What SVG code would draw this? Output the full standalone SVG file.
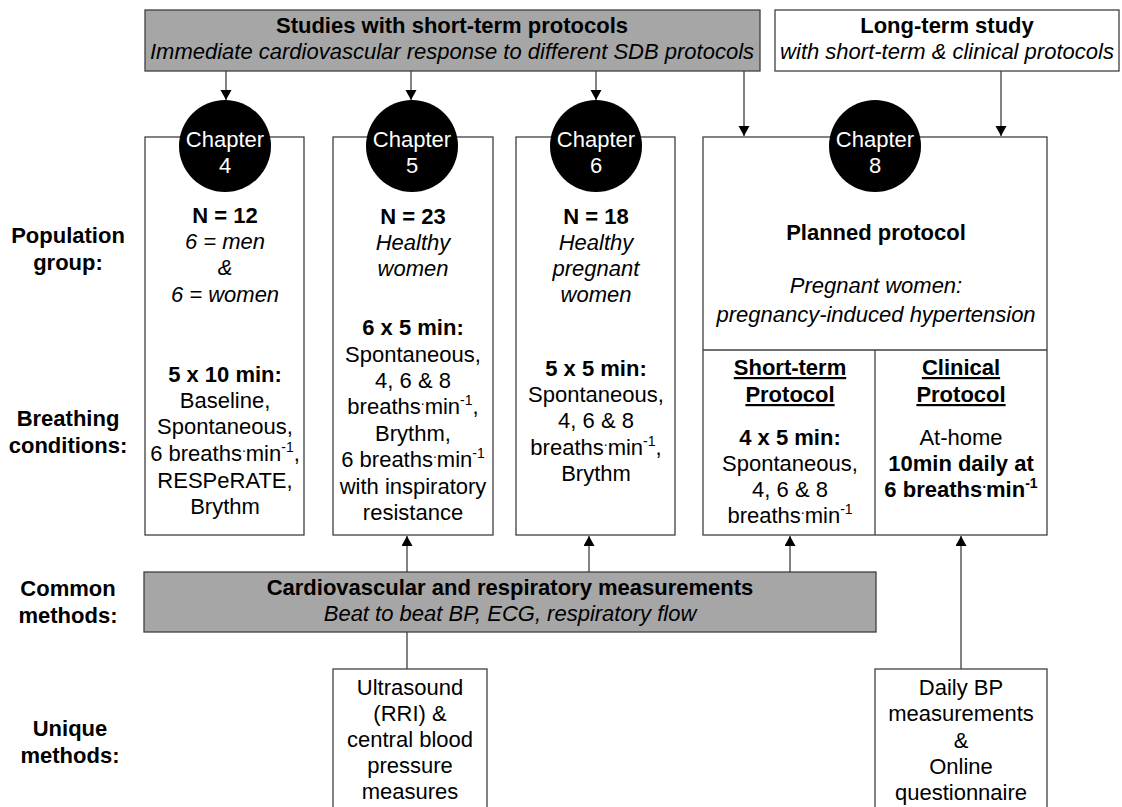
<svg xmlns="http://www.w3.org/2000/svg" width="1122" height="807" viewBox="0 0 1122 807">
<defs>
<marker id="ah" markerUnits="userSpaceOnUse" markerWidth="12" markerHeight="12" refX="10" refY="5.5" orient="auto">
<path d="M0,0 L10,5.5 L0,11 z" fill="#000"/>
</marker>
<style>
text{font-family:"Liberation Sans",Arial,sans-serif;font-size:22px;fill:#000;text-anchor:middle}
.b{font-weight:bold}
.i{font-style:italic}
.u{text-decoration:underline}
.w{fill:#fff}
.box{fill:#fff;stroke:#404040;stroke-width:1.3}
.grey{fill:#a6a6a6;stroke:#404040;stroke-width:1.3}
.circ{fill:#000}
.con{stroke:#404040;stroke-width:1.3;fill:none}
.sup{font-size:14px}
</style>
</defs>
<rect width="1122" height="807" fill="#fff"/>

<g id="labels">
<text class="b" x="68" y="243">Population</text>
<text class="b" x="68" y="270">group:</text>
<text class="b" x="68" y="426">Breathing</text>
<text class="b" x="68" y="453">conditions:</text>
<text class="b" x="68" y="596">Common</text>
<text class="b" x="68" y="623">methods:</text>
<text class="b" x="70" y="736">Unique</text>
<text class="b" x="70" y="763">methods:</text>
</g>

<g id="short-term-studies">
<rect class="grey" x="145" y="10" width="615" height="61"/>
<text class="b" x="452" y="33">Studies with short-term protocols</text>
<text class="i" x="452" y="59">Immediate cardiovascular response to different SDB protocols</text>
</g>

<g id="long-term-study">
<rect class="box" x="775" y="10" width="344" height="61"/>
<text class="b" x="947" y="33">Long-term study</text>
<text class="i" x="947" y="59">with short-term &amp; clinical protocols</text>
</g>

<g id="chapter4">
<rect class="box" x="145" y="137" width="159" height="398"/>
<circle class="circ" cx="225" cy="146" r="46"/>
<text class="w" x="225" y="147">Chapter</text>
<text class="w" x="225" y="173">4</text>
<text class="b" x="225" y="223">N = 12</text>
<text class="i" x="225" y="249">6 = men</text>
<text class="i" x="225" y="275">&amp;</text>
<text class="i" x="225" y="302">6 = women</text>
<text class="b" x="225" y="382">5 x 10 min:</text>
<text x="225" y="408">Baseline,</text>
<text x="225" y="434">Spontaneous,</text>
<text x="225" y="461">6 breaths<tspan class="sup" dy="-9">.</tspan><tspan dy="9">min</tspan><tspan class="sup" dy="-9">-1</tspan><tspan dy="9">,</tspan></text>
<text x="225" y="488">RESPeRATE,</text>
<text x="225" y="514">Brythm</text>
</g>

<g id="chapter5">
<rect class="box" x="333" y="137" width="160" height="398"/>
<circle class="circ" cx="412" cy="146" r="46"/>
<text class="w" x="412" y="147">Chapter</text>
<text class="w" x="412" y="173">5</text>
<text class="b" x="413" y="224">N = 23</text>
<text class="i" x="413" y="250">Healthy</text>
<text class="i" x="413" y="276">women</text>
<text class="b" x="413" y="335">6 x 5 min:</text>
<text x="413" y="362">Spontaneous,</text>
<text x="413" y="388">4, 6 &amp; 8</text>
<text x="413" y="414">breaths<tspan class="sup" dy="-9">.</tspan><tspan dy="9">min</tspan><tspan class="sup" dy="-9">-1</tspan><tspan dy="9">,</tspan></text>
<text x="413" y="441">Brythm,</text>
<text x="413" y="467">6 breaths<tspan class="sup" dy="-9">.</tspan><tspan dy="9">min</tspan><tspan class="sup" dy="-9">-1</tspan></text>
<text x="413" y="494">with inspiratory</text>
<text x="413" y="520">resistance</text>
</g>

<g id="chapter6">
<rect class="box" x="516" y="137" width="159" height="398"/>
<circle class="circ" cx="596" cy="146" r="46"/>
<text class="w" x="596" y="147">Chapter</text>
<text class="w" x="596" y="173">6</text>
<text class="b" x="596" y="224">N = 18</text>
<text class="i" x="596" y="250">Healthy</text>
<text class="i" x="596" y="276">pregnant</text>
<text class="i" x="596" y="302">women</text>
<text class="b" x="596" y="376">5 x 5 min:</text>
<text x="596" y="402">Spontaneous,</text>
<text x="596" y="428">4, 6 &amp; 8</text>
<text x="596" y="455">breaths<tspan class="sup" dy="-9">.</tspan><tspan dy="9">min</tspan><tspan class="sup" dy="-9">-1</tspan><tspan dy="9">,</tspan></text>
<text x="596" y="481">Brythm</text>
</g>

<g id="chapter8">
<rect class="box" x="703" y="137" width="344" height="398"/>
<line class="con" x1="703" y1="350" x2="1047" y2="350"/>
<line class="con" x1="875" y1="350" x2="875" y2="535"/>
<circle class="circ" cx="875" cy="146" r="46"/>
<text class="w" x="875" y="147">Chapter</text>
<text class="w" x="875" y="173">8</text>
<text class="b" x="876" y="240">Planned protocol</text>
<text class="i" x="876" y="293">Pregnant women:</text>
<text class="i" x="876" y="322">pregnancy-induced hypertension</text>
<text class="b u" x="790" y="375">Short-term</text>
<text class="b u" x="790" y="402">Protocol</text>
<text class="b" x="790" y="445">4 x 5 min:</text>
<text x="790" y="471">Spontaneous,</text>
<text x="790" y="497">4, 6 &amp; 8</text>
<text x="790" y="523">breaths<tspan class="sup" dy="-9">.</tspan><tspan dy="9">min</tspan><tspan class="sup" dy="-9">-1</tspan></text>
<text class="b u" x="961" y="375">Clinical</text>
<text class="b u" x="961" y="402">Protocol</text>
<text x="961" y="445">At-home</text>
<text class="b" x="961" y="471">10min daily at</text>
<text class="b" x="961" y="497">6 breaths<tspan class="sup" dy="-9">.</tspan><tspan dy="9">min</tspan><tspan class="sup" dy="-9">-1</tspan></text>
</g>

<g id="common-methods">
<rect class="grey" x="144" y="572" width="732" height="60"/>
<text class="b" x="510" y="595">Cardiovascular and respiratory measurements</text>
<text class="i" x="510" y="621">Beat to beat BP, ECG, respiratory flow</text>
</g>

<g id="unique-ultrasound">
<rect class="box" x="333" y="669" width="154" height="150"/>
<text x="410" y="695">Ultrasound</text>
<text x="410" y="721">(RRI) &amp;</text>
<text x="410" y="747">central blood</text>
<text x="410" y="773">pressure</text>
<text x="410" y="799">measures</text>
</g>

<g id="unique-dailybp">
<rect class="box" x="875" y="669" width="172" height="150"/>
<text x="961" y="695">Daily BP</text>
<text x="961" y="721">measurements</text>
<text x="961" y="748">&amp;</text>
<text x="961" y="774">Online</text>
<text x="961" y="800">questionnaire</text>
</g>

<g id="connectors">
<line class="con" x1="226" y1="71" x2="226" y2="100" marker-end="url(#ah)"/>
<line class="con" x1="411" y1="71" x2="411" y2="100" marker-end="url(#ah)"/>
<line class="con" x1="596" y1="71" x2="596" y2="100" marker-end="url(#ah)"/>
<line class="con" x1="744" y1="71" x2="744" y2="136" marker-end="url(#ah)"/>
<line class="con" x1="1001" y1="71" x2="1001" y2="136" marker-end="url(#ah)"/>
<line class="con" x1="407" y1="572" x2="407" y2="536" marker-end="url(#ah)"/>
<line class="con" x1="589" y1="572" x2="589" y2="536" marker-end="url(#ah)"/>
<line class="con" x1="790" y1="572" x2="790" y2="536" marker-end="url(#ah)"/>
<line class="con" x1="961" y1="669" x2="961" y2="536" marker-end="url(#ah)"/>
<line class="con" x1="407" y1="632" x2="407" y2="669"/>
</g>
</svg>
